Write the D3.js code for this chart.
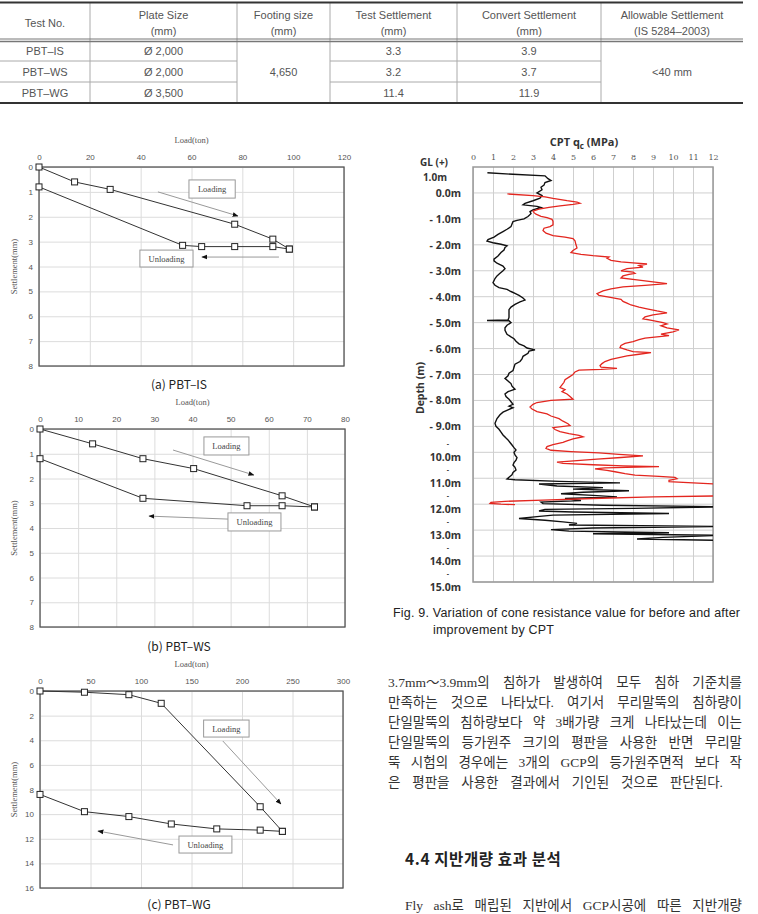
<!DOCTYPE html>
<html>
<head>
<meta charset="utf-8">
<script src="https://cdn.jsdelivr.net/npm/d3@7"></script>
<style>
  body { margin: 0; background: #fff; }
  svg { display: block; }
</style>
</head>
<body>
<script>
// ---- table data ----
const tableHead = [["Test No."], ["Plate Size", "(mm)"], ["Footing size", "(mm)"],
  ["Test Settlement", "(mm)"], ["Convert Settlement", "(mm)"], ["Allowable Settlement", "(IS 5284–2003)"]];
const testNo = ["PBT–IS", "PBT–WS", "PBT–WG"];
const plateSize = ["Ø 2,000", "Ø 2,000", "Ø 3,500"];
const footingSize = "4,650";
const testSettle = ["3.3", "3.2", "11.4"];
const convertSettle = ["3.9", "3.7", "11.9"];
const allowable = "<40 mm";

// ---- plate bearing tests: load (ton) / settlement (mm) ----
const isLoadUp = [0, 14, 28, 77, 92, 98.5];
const isSetUp = [0, 0.6, 0.9, 2.3, 2.9, 3.3];
const isLoadDown = [98.5, 92, 77, 64, 56.5, 0];
const isSetDown = [3.3, 3.2, 3.2, 3.2, 3.15, 0.8];

const wsLoadUp = [0, 13.8, 27, 40.3, 63.5, 72];
const wsSetUp = [0, 0.6, 1.2, 1.6, 2.7, 3.15];
const wsLoadDown = [72, 63.5, 54.3, 27, 0];
const wsSetDown = [3.15, 3.1, 3.1, 2.8, 1.2];

const wgLoadUp = [0, 44, 88, 120, 218, 240];
const wgSetUp = [0, 0.1, 0.3, 1.0, 9.4, 11.4];
const wgLoadDown = [240, 218, 175, 130, 88, 44, 0];
const wgSetDown = [11.4, 11.3, 11.2, 10.8, 10.2, 9.8, 8.4];

// ---- CPT qc (MPa) vs depth below 0.0m ----
const beforeDepth = [-0.78, -0.72, -0.66, -0.55, -0.48, -0.40, -0.30, -0.22, -0.12, 0.0, 0.1, 0.2, 0.3, 0.4, 0.46, 0.52, 0.56, 0.65, 0.72, 0.8, 0.91, 1.0, 1.06, 1.1, 1.2, 1.3, 1.4, 1.49, 1.6, 1.7, 1.8, 1.86, 1.92, 1.98, 2.04, 2.1, 2.2, 2.3, 2.43, 2.55, 2.62, 2.71, 2.82, 2.92, 3.0, 3.1, 3.2, 3.3, 3.46, 3.56, 3.65, 3.72, 3.8, 3.87, 3.95, 4.05, 4.13, 4.2, 4.3, 4.4, 4.5, 4.65, 4.8, 4.9, 4.92, 4.93, 5.0, 5.1, 5.2, 5.3, 5.45, 5.55, 5.62, 5.72, 5.82, 5.9, 5.98, 6.05, 6.1, 6.18, 6.3, 6.4, 6.5, 6.6, 6.72, 6.85, 6.95, 7.05, 7.15, 7.25, 7.35, 7.45, 7.57, 7.66, 7.75, 7.85, 7.95, 8.05, 8.15, 8.22, 8.28, 8.36, 8.45, 8.55, 8.7, 8.88, 9.0, 9.11, 9.22, 9.33, 9.45, 9.52, 9.62, 9.72, 9.82, 9.91, 10.0, 10.1, 10.2, 10.3, 10.4, 10.49, 10.58, 10.68, 10.78, 10.87, 10.96, 11.03, 11.06, 11.12, 11.18, 11.22, 11.3, 11.36, 11.42, 11.48, 11.54, 11.6, 11.66, 11.72, 11.78, 11.86, 11.92, 11.98, 12.04, 12.1, 12.16, 12.2, 12.26, 12.3, 12.36, 12.42, 12.48, 12.55, 12.62, 12.68, 12.74, 12.8, 12.86, 12.92, 12.98, 13.04, 13.1, 13.14, 13.2, 13.28, 13.34, 13.4];
const beforeQc = [0.72, 2.0, 3.6, 3.75, 3.9, 3.6, 3.55, 3.4, 3.45, 3.2, 3.45, 3.35, 3.0, 2.6, 2.5, 3.2, 3.4, 3.0, 2.85, 2.9, 2.75, 2.55, 2.2, 2.0, 1.95, 1.9, 1.7, 1.5, 1.25, 1.05, 0.75, 0.7, 1.0, 1.4, 1.7, 1.6, 1.55, 1.4, 1.25, 1.05, 1.05, 1.2, 1.5, 1.6, 1.5, 1.35, 1.2, 1.1, 1.0, 1.1, 1.3, 1.7, 1.9, 2.1, 2.3, 2.5, 2.6, 2.35, 2.1, 1.9, 1.8, 1.8, 1.8, 1.75, 0.7, 1.8, 1.9, 1.7, 1.6, 1.6, 1.7, 1.9, 2.05, 2.15, 2.3, 2.55, 2.7, 3.1, 2.8, 2.75, 2.5, 2.45, 2.35, 2.1, 2.05, 2.0, 1.8, 1.75, 1.6, 1.75, 1.9, 1.95, 2.1, 1.75, 1.6, 1.65, 1.8, 1.9, 2.0, 1.8, 2.0, 1.75, 1.5, 1.35, 1.2, 1.1, 1.15, 1.3, 1.4, 1.5, 1.65, 1.75, 1.85, 1.95, 2.05, 2.15, 2.05, 2.1, 2.2, 2.15, 2.05, 2.0, 2.1, 2.15, 2.0, 1.95, 1.8, 1.7, 2.1, 4.3, 7.35, 3.3, 4.2, 6.5, 5.0, 7.8, 5.5, 4.4, 6.0, 7.2, 4.6, 5.4, 3.4, 3.5, 6.5, 12.5, 8.0, 3.6, 3.3, 5.0, 9.8, 4.0, 3.2, 2.3, 3.6, 4.5, 5.2, 4.8, 12.5, 6.0, 3.9, 4.8, 9.8, 6.0, 12.5, 9.5, 8.2, 12.5];

const afterDepth = [0.04, 0.1, 0.15, 0.21, 0.3, 0.35, 0.4, 0.44, 0.5, 0.56, 0.62, 0.7, 0.76, 0.82, 0.9, 0.95, 1.02, 1.1, 1.23, 1.3, 1.36, 1.45, 1.55, 1.65, 1.7, 1.76, 1.85, 2.0, 2.12, 2.22, 2.3, 2.37, 2.42, 2.47, 2.52, 2.6, 2.66, 2.7, 2.74, 2.8, 2.86, 2.92, 3.0, 3.05, 3.1, 3.14, 3.2, 3.28, 3.35, 3.43, 3.5, 3.56, 3.62, 3.7, 3.78, 3.88, 3.95, 4.02, 4.1, 4.18, 4.25, 4.32, 4.4, 4.47, 4.55, 4.62, 4.7, 4.78, 4.85, 4.92, 5.0, 5.05, 5.12, 5.2, 5.28, 5.36, 5.44, 5.5, 5.55, 5.6, 5.66, 5.73, 5.8, 5.88, 5.96, 6.05, 6.12, 6.16, 6.22, 6.28, 6.35, 6.42, 6.5, 6.58, 6.66, 6.72, 6.76, 6.8, 6.83, 6.9, 7.0, 7.1, 7.2, 7.3, 7.4, 7.5, 7.58, 7.66, 7.75, 7.85, 7.95, 8.0, 8.08, 8.15, 8.25, 8.33, 8.43, 8.52, 8.6, 8.7, 8.8, 8.9, 8.97, 9.05, 9.12, 9.2, 9.28, 9.35, 9.4, 9.48, 9.56, 9.62, 9.7, 9.78, 9.85, 9.92, 9.97, 10.02, 10.08, 10.14, 10.2, 10.26, 10.32, 10.38, 10.43, 10.48, 10.52, 10.55, 10.6, 10.64, 10.7, 10.75, 10.82, 10.88, 10.93, 10.97, 11.02, 11.08, 11.13, 11.18, 11.23, 11.4, 11.6, 11.68, 11.72, 11.78, 11.84, 11.89, 11.93, 11.97, 12.0, 12.02];
const afterQc = [1.72, 3.0, 3.6, 4.0, 4.7, 5.2, 5.35, 5.0, 4.35, 3.8, 3.3, 3.0, 3.05, 3.15, 3.4, 3.7, 3.95, 4.0, 4.0, 3.85, 3.55, 3.5, 3.65, 4.0, 4.6, 5.0, 5.1, 5.15, 5.2, 5.0, 4.9, 5.4, 6.0, 6.8, 6.7, 6.9, 7.4, 8.0, 8.7, 8.3, 8.5, 7.7, 7.4, 8.0, 8.1, 7.8, 7.5, 7.4, 8.2, 9.0, 9.7, 8.6, 7.5, 6.9, 6.5, 6.2, 6.3, 6.8, 7.4, 7.5, 7.7, 7.9, 8.3, 8.7, 9.2, 9.7, 9.0, 8.6, 8.5, 9.0, 9.5, 9.7, 9.4, 9.7, 10.3, 10.0, 9.4, 9.8, 9.2, 8.6, 8.3, 8.0, 7.6, 7.4, 7.35, 7.7, 8.0, 8.9, 8.3, 7.7, 7.3, 6.9, 6.6, 6.45, 6.35, 6.4, 7.2, 6.4, 5.3, 5.1, 5.0, 4.8, 4.6, 4.55, 4.45, 4.35, 4.6, 4.45, 4.7, 4.85, 5.0, 3.9, 3.2, 3.0, 2.85, 2.95, 3.2, 3.7, 3.9, 4.3, 4.5, 4.75, 4.85, 4.0, 4.1, 4.35, 4.8, 5.3, 5.5, 5.0, 4.7, 4.5, 4.0, 3.7, 3.65, 3.9, 4.9, 6.3, 7.3, 8.5, 7.4, 6.2, 5.2, 4.2, 4.5, 6.0, 7.5, 9.3, 6.6, 6.1, 6.7, 7.1, 7.6, 8.1, 9.3, 10.1, 10.2, 9.8, 9.8, 11.0, 12.4, 13, 13, 12.4, 9.0, 6.0, 3.5, 1.6, 0.9, 0.85, 1.4, 2.1];

const depthTicks = d3.range(0, 16);
const qcTicks = d3.range(0, 13);

// ---- text ----
const bodyLines = [
  "3.7mm～3.9mm의 침하가 발생하여 모두 침하 기준치를",
  "만족하는 것으로 나타났다. 여기서 무리말뚝의 침하량이",
  "단일말뚝의 침하량보다 약 3배가량 크게 나타났는데 이는",
  "단일말뚝의 등가원주 크기의 평판을 사용한 반면 무리말",
  "뚝 시험의 경우에는 3개의 GCP의 등가원주면적 보다 작",
  "은 평판을 사용한 결과에서 기인된 것으로 판단된다."
];
const heading = "4.4 지반개량 효과 분석";
const lastLine = "Fly ash로 매립된 지반에서 GCP시공에 따른 지반개량";
const figCaption = ["Fig. 9. Variation of cone resistance value for before and after", "improvement by CPT"];

const W = 758, H = 914;
const SANS = "'Noto Sans CJK KR', 'Liberation Sans', sans-serif";
const SERIF = "'Liberation Serif', 'Noto Sans CJK KR', serif";

const svg = d3.select('body').append('svg')
  .attr('width', W).attr('height', H);

svg.append('defs').append('marker')
  .attr('id', 'arrow')
  .attr('viewBox', '0 0 10 10')
  .attr('refX', 9).attr('refY', 5)
  .attr('markerWidth', 6).attr('markerHeight', 6)
  .attr('orient', 'auto')
  .append('path').attr('d', 'M0,1 L10,5 L0,9 Z').attr('fill', '#111');

// spread the spaces of a line so it fills the column width
function justify(sel, target) {
  sel.each(function(d, i) {
    const t = d3.select(this);
    const goal = typeof target === 'function' ? target(d, i) : target;
    const n = (t.text().match(/ /g) || []).length;
    const w = this.getComputedTextLength();
    if (n) t.style('word-spacing', ((goal - w) / n) + 'px');
  });
}

// ================= TABLE =================
const colX = [0, 90, 237, 330, 457, 601, 743];
const rowY = [40, 61, 82, 103];
const table = svg.append('g').attr('class', 'table')
  .style('font-family', "'Liberation Sans', sans-serif").style('font-size', '11px').attr('fill', '#555');

const colMid = i => (colX[i] + colX[i + 1]) / 2;

table.selectAll('.vline').data(colX.slice(1, -1))
  .enter().append('line')
  .attr('x1', d => d).attr('x2', d => d)
  .attr('y1', 3).attr('y2', 103)
  .attr('stroke', '#aaa').attr('stroke-width', 1);

// row rules (skip merged columns)
[61, 82].forEach(y => {
  [[0, 2], [3, 5]].forEach(([a, b]) => {
    table.append('line')
      .attr('x1', colX[a]).attr('x2', colX[b])
      .attr('y1', y).attr('y2', y)
      .attr('stroke', '#aaa');
  });
});
table.append('line').attr('x1', 0).attr('x2', 743).attr('y1', 2.5).attr('y2', 2.5)
  .attr('stroke', '#333').attr('stroke-width', 2);
table.append('line').attr('x1', 0).attr('x2', 743).attr('y1', 39).attr('y2', 39)
  .attr('stroke', '#777').attr('stroke-width', 1);
table.append('line').attr('x1', 0).attr('x2', 743).attr('y1', 41.5).attr('y2', 41.5)
  .attr('stroke', '#777').attr('stroke-width', 1.5);
table.append('line').attr('x1', 0).attr('x2', 743).attr('y1', 103).attr('y2', 103)
  .attr('stroke', '#333').attr('stroke-width', 2);

tableHead.forEach((lines, i) => {
  const t = table.append('text').attr('text-anchor', 'middle');
  if (lines.length === 1) {
    t.attr('x', colMid(i)).attr('y', 27).text(lines[0]);
  } else {
    lines.forEach((s, k) => {
      t.append('tspan').attr('x', colMid(i)).attr('y', 19 + k * 16).text(s);
    });
  }
});

const rowMid = r => (rowY[r] + rowY[r + 1]) / 2 + 4;
[testNo, plateSize, null, testSettle, convertSettle].forEach((col, i) => {
  if (!col) return;
  table.selectAll(null).data(col).enter().append('text')
    .attr('x', colMid(i)).attr('y', (d, r) => rowMid(r))
    .attr('text-anchor', 'middle').text(d => d);
});
table.append('text').attr('x', colMid(2)).attr('y', rowMid(1))
  .attr('text-anchor', 'middle').text(footingSize);
table.append('text').attr('x', colMid(5)).attr('y', rowMid(1))
  .attr('text-anchor', 'middle').text(allowable);

// ================= LOAD-SETTLEMENT CHARTS =================
function loadChart(cfg) {
  const g = svg.append('g');
  const x = d3.scaleLinear().domain([0, cfg.xMax]).range([cfg.left, cfg.right]);
  const y = d3.scaleLinear().domain([0, cfg.yMax]).range([cfg.top, cfg.bottom]);
  const w = cfg.right - cfg.left, h = cfg.bottom - cfg.top;

  g.append('g').attr('transform', 'translate(0,' + cfg.top + ')')
    .call(d3.axisTop(x).tickValues(d3.range(0, cfg.xMax + 1, cfg.xStep)).tickSize(-h).tickPadding(7))
    .call(a => a.select('.domain').remove())
    .call(a => a.selectAll('line').attr('stroke', '#dcdcdc'))
    .call(a => a.selectAll('text').attr('fill', '#555').style('font-size', '8px')
      .style('font-family', "'Liberation Sans', sans-serif"));

  g.append('g').attr('transform', 'translate(' + cfg.left + ',0)')
    .call(d3.axisLeft(y).tickValues(d3.range(0, cfg.yMax + 1, cfg.yStep)).tickSize(-w).tickPadding(6))
    .call(a => a.select('.domain').remove())
    .call(a => a.selectAll('line').attr('stroke', '#dcdcdc'))
    .call(a => a.selectAll('text').attr('fill', '#555').style('font-size', '8px')
      .style('font-family', "'Liberation Sans', sans-serif"));

  g.append('rect')
    .attr('x', cfg.left).attr('y', cfg.top).attr('width', w).attr('height', h)
    .attr('fill', 'none').attr('stroke', '#555').attr('stroke-width', 1.3);

  g.append('text')
    .attr('x', (cfg.left + cfg.right) / 2).attr('y', cfg.top - 24)
    .attr('text-anchor', 'middle').attr('fill', '#555')
    .style('font-family', SERIF).style('font-size', '8.5px')
    .text('Load(ton)');

  g.append('text')
    .attr('transform', 'translate(17,' + (cfg.top + h / 2) + ') rotate(-90)')
    .attr('text-anchor', 'middle').attr('fill', '#555')
    .style('font-family', SERIF).style('font-size', '8.5px')
    .text('Settlement(mm)');

  const line = d3.line().x(d => x(d[0])).y(d => y(d[1]));
  const up = d3.zip(cfg.loadUp, cfg.setUp);
  const down = d3.zip(cfg.loadDown, cfg.setDown);
  [up, down].forEach(pts => {
    g.append('path').datum(pts).attr('d', line)
      .attr('fill', 'none').attr('stroke', '#333').attr('stroke-width', 1);
  });
  g.selectAll('.mk').data(up.concat(down)).enter().append('rect')
    .attr('x', d => x(d[0]) - 3).attr('y', d => y(d[1]) - 3)
    .attr('width', 6).attr('height', 6)
    .attr('fill', '#fff').attr('stroke', '#222').attr('stroke-width', 1);

  cfg.notes.forEach(n => {
    g.append('line')
      .attr('x1', x(n.from[0])).attr('y1', y(n.from[1]))
      .attr('x2', x(n.to[0])).attr('y2', y(n.to[1]))
      .attr('stroke', '#999').attr('stroke-width', 1)
      .attr('marker-end', 'url(#arrow)');
    const bx = x(n.box[0]), by = y(n.box[1]), bw = x(n.box[2]) - bx, bh = y(n.box[3]) - by;
    g.append('rect').attr('x', bx).attr('y', by).attr('width', bw).attr('height', bh)
      .attr('fill', '#fff').attr('stroke', '#999').attr('stroke-width', 1);
    g.append('text').attr('x', bx + bw / 2).attr('y', by + bh / 2 + 3)
      .attr('text-anchor', 'middle').attr('fill', '#444')
      .style('font-family', SERIF).style('font-size', '8.5px')
      .text(n.label);
  });

  g.append('text')
    .attr('x', 179).attr('y', cfg.capY)
    .attr('text-anchor', 'middle').attr('fill', '#222')
    .style('font-family', SANS).style('font-size', '12px')
    .text(cfg.caption);
}

loadChart({
  left: 39, right: 344, top: 167, bottom: 366, xMax: 120, xStep: 20, yMax: 8, yStep: 1,
  loadUp: isLoadUp, setUp: isSetUp, loadDown: isLoadDown, setDown: isSetDown,
  notes: [
    { label: 'Loading', box: [59, 0.52, 77.2, 1.25], from: [46.8, 1.0], to: [78.3, 1.97] },
    { label: 'Unloading', box: [39.7, 3.34, 60.6, 4.02], from: [94.4, 3.62], to: [64.1, 3.62] }
  ],
  caption: '(a)  PBT–IS', capY: 389
});

loadChart({
  left: 40, right: 345, top: 429, bottom: 627, xMax: 80, xStep: 10, yMax: 8, yStep: 1,
  loadUp: wsLoadUp, setUp: wsSetUp, loadDown: wsLoadDown, setDown: wsSetDown,
  notes: [
    { label: 'Loading', box: [43, 0.32, 54.8, 1.05], from: [34.9, 0.85], to: [56.1, 1.86] },
    { label: 'Unloading', box: [49.3, 3.39, 63.2, 4.12], from: [49.3, 3.64], to: [28.6, 3.52] }
  ],
  caption: '(b)  PBT–WS', capY: 651
});

loadChart({
  left: 40, right: 343, top: 691, bottom: 888, xMax: 300, xStep: 50, yMax: 16, yStep: 2,
  loadUp: wgLoadUp, setUp: wgSetUp, loadDown: wgLoadDown, setDown: wgSetDown,
  notes: [
    { label: 'Loading', box: [162, 2.36, 207, 3.74], from: [181, 4.06], to: [238.6, 9.18] },
    { label: 'Unloading', box: [137.6, 11.78, 190, 13.16], from: [131.7, 12.5], to: [57.4, 11.37] }
  ],
  caption: '(c)  PBT–WG', capY: 909
});

// ================= CPT CHART =================
const cpt = svg.append('g');
const qx = d3.scaleLinear().domain([0, 12]).range([473, 713]);
const dy = d3.scaleLinear().domain([-1, 15]).range([167, 582]);

cpt.append('clipPath').attr('id', 'cptclip')
  .append('rect').attr('x', 473).attr('y', 167).attr('width', 240).attr('height', 415);

cpt.append('g').attr('transform', 'translate(0,167)')
  .call(d3.axisTop(qx).tickValues(qcTicks).tickSize(-415).tickPadding(7))
  .call(a => a.select('.domain').remove())
  .call(a => a.selectAll('line').attr('stroke', '#cfcfcf'))
  .call(a => a.selectAll('text').attr('fill', '#555').style('font-size', '8px')
    .style('font-family', "'DejaVu Serif', serif"));

cpt.append('g').selectAll('line').data(depthTicks).enter().append('line')
  .attr('x1', 473).attr('x2', 713)
  .attr('y1', d => dy(d)).attr('y2', d => dy(d))
  .attr('stroke', '#cfcfcf');

cpt.append('rect').attr('x', 473).attr('y', 167).attr('width', 240).attr('height', 415)
  .attr('fill', 'none').attr('stroke', '#999').attr('stroke-width', 1.5);

const cptLine = d3.line().x(d => qx(d[1])).y(d => dy(d[0]));
cpt.append('path').datum(d3.zip(beforeDepth, beforeQc))
  .attr('d', cptLine).attr('clip-path', 'url(#cptclip)')
  .attr('fill', 'none').attr('stroke', '#111').attr('stroke-width', 1.4);
cpt.append('path').datum(d3.zip(afterDepth, afterQc))
  .attr('d', cptLine).attr('clip-path', 'url(#cptclip)')
  .attr('fill', 'none').attr('stroke', '#e3261f').attr('stroke-width', 1.3);

const cptTitle = cpt.append('text').attr('x', 584).attr('y', 146)
  .attr('text-anchor', 'middle').attr('fill', '#333')
  .style('font-family', "'Open Sans', sans-serif").style('font-size', '11px').style('font-weight', 'bold');
cptTitle.append('tspan').text('CPT q');
cptTitle.append('tspan').attr('dy', 3).style('font-size', '8px').text('c');
cptTitle.append('tspan').attr('dy', -3).text(' (MPa)');

const lab = cpt.append('g').attr('fill', '#333')
  .style('font-family', "'Open Sans', sans-serif").style('font-size', '10.5px').style('font-weight', 'bold');
lab.append('text').attr('x', 420).attr('y', 166).style('font-size', '10px').text('GL (+)');
lab.append('text').attr('x', 447).attr('y', 181).style('font-size', '10px').attr('text-anchor', 'end').text('1.0m');
lab.selectAll('.dl').data(depthTicks).enter().append('text')
  .attr('x', 461).attr('text-anchor', 'end')
  .attr('y', d => dy(d) + (d >= 10 ? 9 : 4))
  .text(d => d === 0 ? '0.0m' : (d < 10 ? '- ' + d.toFixed(1) + 'm' : d.toFixed(1) + 'm'));
lab.selectAll('.dash').data(depthTicks.filter(d => d >= 10)).enter().append('text')
  .attr('x', 448).attr('text-anchor', 'middle')
  .attr('y', d => dy(d) - 6)
  .style('font-size', '7px')
  .text('-');
lab.append('text')
  .attr('transform', 'translate(424,388) rotate(-90)')
  .attr('text-anchor', 'middle').text('Depth (m)');

const cap = svg.append('g').attr('fill', '#222')
  .style('font-family', "'Liberation Sans', sans-serif").style('font-size', '12.5px');
cap.append('text').attr('x', 393).attr('y', 617)
  .attr('textLength', 347).attr('lengthAdjust', 'spacing').text(figCaption[0]);
cap.append('text').attr('x', 433).attr('y', 634)
  .attr('textLength', 121).attr('lengthAdjust', 'spacing').text(figCaption[1]);

// ================= BODY TEXT =================
const body = svg.append('g').attr('fill', '#333')
  .style('font-family', SERIF).style('font-size', '13.5px');
body.selectAll('text').data(bodyLines).enter().append('text')
  .attr('x', 388).attr('y', (d, i) => 687 + i * 20)
  .text(d => d)
  .call(justify, (d, i) => i === bodyLines.length - 1 ? 335 : 354);

svg.append('text').attr('x', 405).attr('y', 865).attr('fill', '#222')
  .style('font-family', SANS).style('font-size', '15.5px').style('font-weight', 'bold')
  .style('letter-spacing', '0.6px')
  .text(heading);

svg.append('text').attr('x', 405).attr('y', 910).attr('fill', '#333')
  .style('font-family', SERIF).style('font-size', '13.5px')
  .text(lastLine)
  .call(justify, 337);
</script>
</body>
</html>
